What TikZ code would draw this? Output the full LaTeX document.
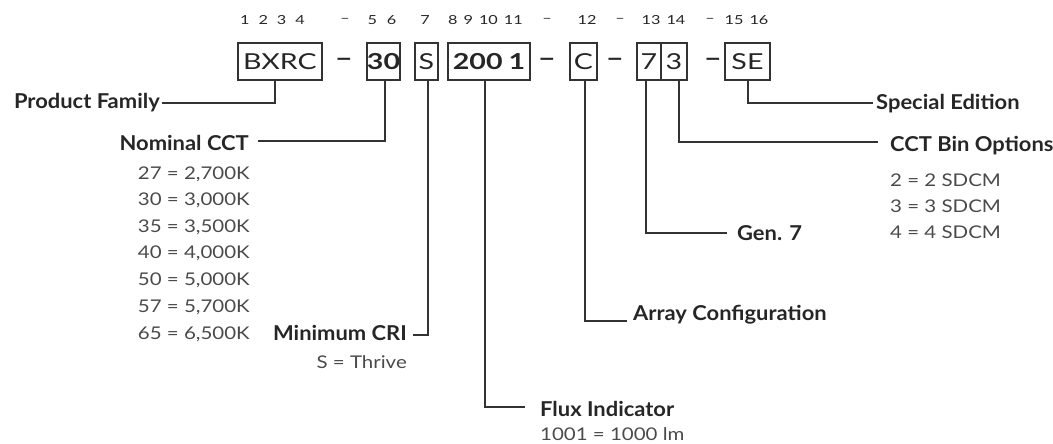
\documentclass[tikz,border=0pt]{standalone}
\usepackage{fontspec}
\setmainfont{Lato}
\newfontfamily\hfont[FakeStretch=1.07]{Lato}
\newfontfamily\vfont[FakeStretch=1.17]{Lato}
\newfontfamily\bfont[FakeStretch=1.3]{Lato}
\newfontfamily\dfont[FakeStretch=1.3]{Lato}
\definecolor{ink}{HTML}{262626}
\definecolor{val}{HTML}{4A4A4A}
\definecolor{ln}{HTML}{333333}
\begin{document}
\begin{tikzpicture}[x=1pt,y=-1pt,
  codebox/.style={draw=ln,line width=1.2pt,minimum height=37pt,inner sep=0pt,font=\bfont\fontsize{22}{22}\selectfont,text=ink},
  boldbox/.style={codebox,font=\bfont\fontsize{22}{22}\selectfont\bfseries},
  digit/.style={font=\dfont\fontsize{12.5}{12.5}\selectfont,text=ink,inner sep=0pt},
  dashlbl/.style={font=\bfont\fontsize{24}{24}\selectfont\bfseries,text=ink,inner sep=0pt},
  head/.style={font=\hfont\fontsize{20.5}{20.5}\selectfont\bfseries,text=ink,inner sep=0pt},
  vals/.style={font=\vfont\fontsize{17.5}{17.5}\selectfont,text=val,inner sep=0pt},
  conn/.style={draw=ln,line width=1.2pt}]
\useasboundingbox (0,0) rectangle (1053,444);
% digits row
\node[digit] (d1) at (272.5,20) {1\hspace{9pt}2\hspace{9pt}3\hspace{9pt}4};
\node[digit] (d2) at (345,20) {–};
\node[digit] (d3) at (382,20) {5\hspace{10pt}6};
\node[digit] (d4) at (425,20) {7};
\node[digit] (d5) at (485.5,20) {8\hspace{6pt}9\hspace{6pt}10\hspace{6pt}11};
\node[digit] (d6) at (547,20) {–};
\node[digit] (d7) at (587,20) {12};
\node[digit] (d8) at (620,20) {–};
\node[digit] (d9) at (663.5,20) {13\hspace{6pt}14};
\node[digit] (d10) at (710,20) {–};
\node[digit] (d11) at (746.5,20) {15\hspace{6pt}16};
% boxes
\node[codebox,minimum width=84pt] (bxrc) at (280,61.5) {BXRC};
\node[dashlbl] (m1) at (344,62) {–};
\node[boldbox,minimum width=33pt] (thirty) at (383.5,61.5) {30};
\node[codebox,minimum width=23pt] (s) at (426.5,61.5) {S};
\node[boldbox,minimum width=82pt] (flux2001) at (489,61.5) {200\kern6pt1};
\node[dashlbl] (m2) at (547,62) {–};
\node[codebox,minimum width=27pt] (c) at (583.5,61.5) {C};
\node[dashlbl] (m3) at (615,62) {–};
\node[codebox,minimum width=24pt] (seven) at (649,61.5) {7};
\node[codebox,minimum width=26pt] (three) at (674,61.5) {3};
\node[dashlbl] (m4) at (713,62) {–};
\node[codebox,minimum width=45pt] (se) at (747.5,61.5) {SE};
% labels
\node[head,anchor=base east] (pf) at (160,109) {Product Family};
\node[head,anchor=base east] (ncct) at (249,150.5) {Nominal CCT};
\node[vals,anchor=base east] (v1) at (250,179) {27 = 2,700K};
\node[vals,anchor=base east] (v2) at (250,205.5) {30 = 3,000K};
\node[vals,anchor=base east] (v3) at (250,232) {35 = 3,500K};
\node[vals,anchor=base east] (v4) at (250,258.5) {40 = 4,000K};
\node[vals,anchor=base east] (v5) at (250,285.5) {50 = 5,000K};
\node[vals,anchor=base east] (v6) at (250,312) {57 = 5,700K};
\node[vals,anchor=base east] (v7) at (250,339) {65 = 6,500K};
\node[head,anchor=base east] (mcri) at (407,340.5) {Minimum CRI};
\node[vals,anchor=base east] (mcriv) at (407,368) {S = Thrive};
\node[head,anchor=base west] (fluxl) at (540,416.5) {Flux Indicator};
\node[vals,anchor=base west] (fluxv) at (540,440.5) {1001 = 1000 lm};
\node[head,anchor=base west] (arr) at (633,320.5) {Array Configuration};
\node[head,anchor=base west] (gen) at (737,240) {Gen. 7};
\node[head,anchor=base west] (cbo) at (890,151.5) {CCT Bin Options};
\node[vals,anchor=base west] (c1) at (890,186) {2 = 2 SDCM};
\node[vals,anchor=base west] (c2) at (890,212) {3 = 3 SDCM};
\node[vals,anchor=base west] (c3) at (890,238) {4 = 4 SDCM};
\node[head,anchor=base west] (spe) at (876,109.5) {Special Edition};
% connector free ends
\coordinate (pfend) at (162,103);
\coordinate (ncctend) at (258,141);
\coordinate (mcriend) at (413,335);
\coordinate (fluxend) at (525,407);
\coordinate (arrend) at (627,321);
\coordinate (genend) at (727,233);
\coordinate (cboend) at (878,142);
\coordinate (speend) at (873,103);
% connectors
\draw[conn] (pfend) -| ([xshift=-5pt]bxrc.south);
\draw[conn] (ncctend) -| ([xshift=1.5pt]thirty.south);
\draw[conn] (mcriend) -| ([xshift=1.5pt]s.south);
\draw[conn] ([xshift=-4pt]flux2001.south) |- (fluxend);
\draw[conn] ([xshift=1.5pt]c.south) |- (arrend);
\draw[conn] ([xshift=-3pt]seven.south) |- (genend);
\draw[conn] ([xshift=5pt]three.south) |- (cboend);
\draw[conn] ([xshift=0.5pt]se.south) |- (speend);
\end{tikzpicture}
\end{document}
